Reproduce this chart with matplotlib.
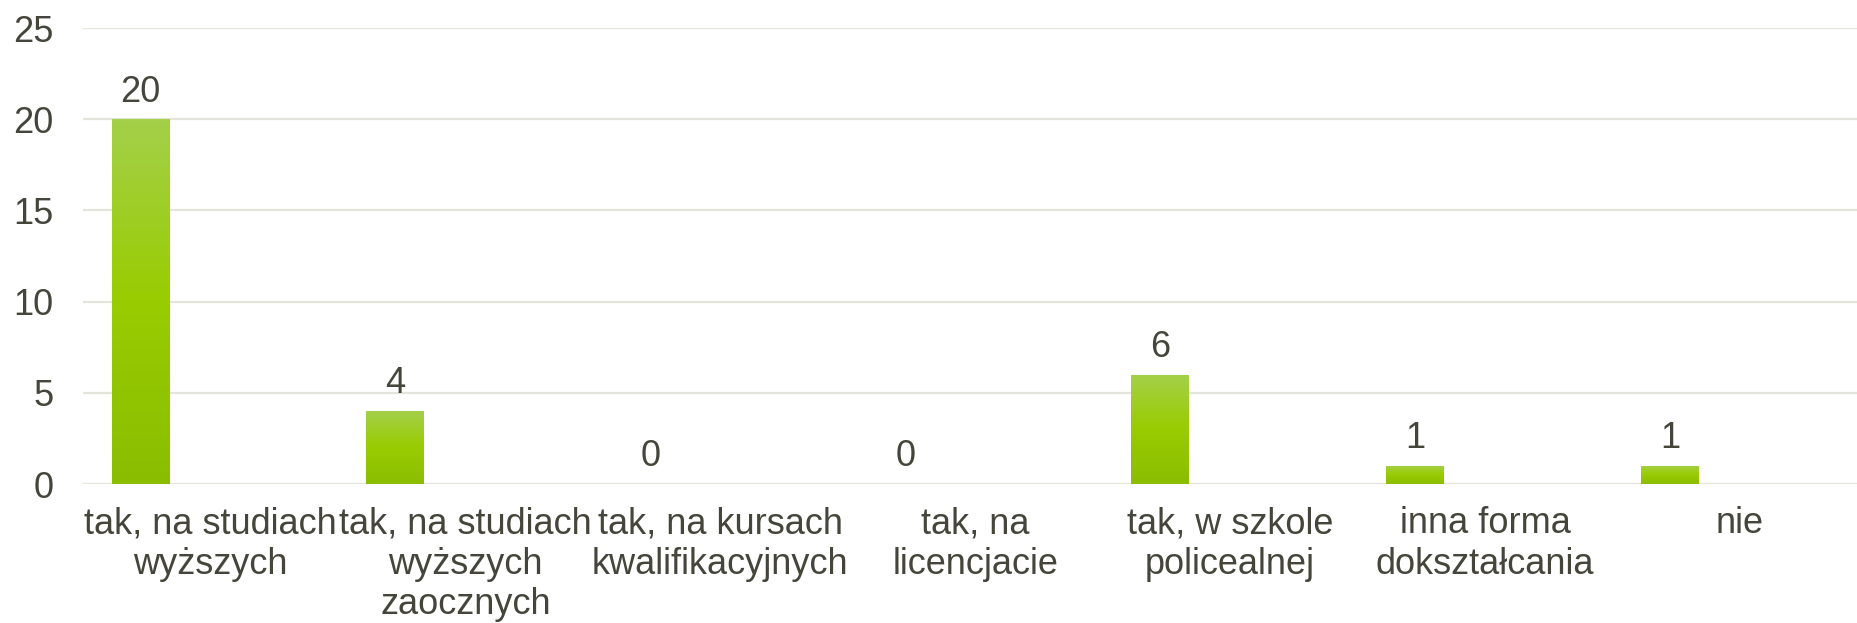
import matplotlib.pyplot as plt
import numpy as np
from matplotlib.colors import LinearSegmentedColormap

# data
categories = ["tak, na studiach\nwyższych",
              "tak, na studiach\nwyższych\nzaocznych",
              "tak, na kursach\nkwalifikacyjnych",
              "tak, na\nlicencjacie",
              "tak, w szkole\npolicealnej",
              "inna forma\ndokształcania",
              "nie"]
values = [20, 4, 0, 0, 6, 1, 1]
y_ticks = [0, 5, 10, 15, 20, 25]

text_color = '#45453b'
grid_color = '#e4e4da'
plt.rcParams['font.family'] = ['Liberation Sans', 'DejaVu Sans']

fig = plt.figure(figsize=(18.57, 6.23), dpi=100)
ax = fig.add_axes([0.0447, 0.2231, 0.9553, 0.7319])

x = np.arange(len(categories))
bar_offset = -0.2745   # bars sit left of the category centre
bar_width = 0.227

bars = ax.bar(x + bar_offset, values, width=bar_width, color='none', zorder=3)

# vertical gradient inside each bar
grad = LinearSegmentedColormap.from_list('g', ['#8abd00', '#99cc00', '#a4d04a'])
g = np.linspace(0, 1, 256).reshape(-1, 1)
for b in bars:
    h = b.get_height()
    if h <= 0:
        continue
    x0 = b.get_x()
    im = ax.imshow(g, cmap=grad, origin='lower', aspect='auto',
                   extent=[x0, x0 + b.get_width(), 0, h], zorder=3)
    im.set_clip_path(b)

# data labels
for b, v in zip(bars, values):
    ax.annotate(str(v), (b.get_x() + b.get_width() / 2, v),
                xytext=(0, 7), textcoords='offset points',
                ha='center', va='bottom', fontsize=26, color=text_color)

ax.set_xlim(-0.5, 6.459)
ax.set_ylim(0, 25)
ax.set_yticks(y_ticks)
ax.set_xticks(x)
ax.set_xticklabels(categories, fontsize=26, color=text_color, linespacing=1.2)
ax.tick_params(axis='y', length=0, pad=21, labelsize=26, labelcolor=text_color)
ax.tick_params(axis='x', length=0, pad=16)

ax.grid(axis='y', color=grid_color, linewidth=1.6, zorder=0)
ax.set_axisbelow(True)
for s in ax.spines.values():
    s.set_visible(False)

fig.savefig('out.png', dpi=100)
